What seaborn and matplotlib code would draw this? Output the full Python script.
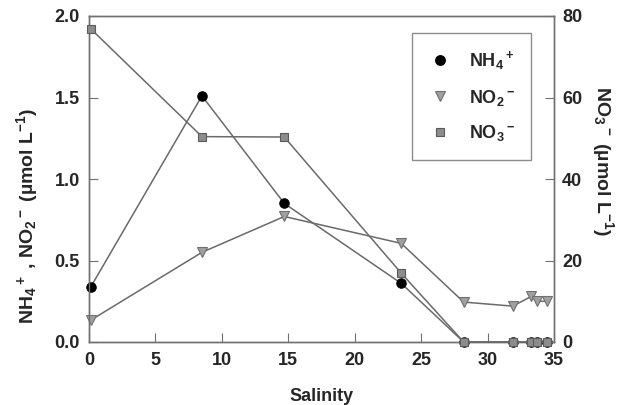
import matplotlib
matplotlib.use("Agg")
import matplotlib.pyplot as plt
import seaborn as sns
import pandas as pd
from matplotlib.lines import Line2D

salinity_nh4 = [0.15, 8.5, 14.7, 23.5, 28.2, 31.9, 33.3, 33.7, 34.45]
nh4 = [0.34, 1.51, 0.85, 0.36, 0.0, 0.0, 0.0, 0.0, 0.0]
salinity_no2 = [0.15, 8.5, 14.7, 23.5, 28.2, 31.9, 33.3, 33.7, 34.45]
no2 = [0.135, 0.55, 0.77, 0.605, 0.245, 0.22, 0.28, 0.25, 0.25]
salinity_no3 = [0.15, 8.5, 14.7, 23.5, 28.2, 31.9, 33.3, 33.7, 34.45]
no3 = [76.8, 50.4, 50.3, 16.9, 0.0, 0.0, 0.0, 0.0, 0.0]

sns.set_style("white")
plt.rcParams['font.family'] = ['Liberation Sans', 'DejaVu Sans']
plt.rcParams['font.weight'] = 'bold'
plt.rcParams['mathtext.fontset'] = 'custom'
plt.rcParams['mathtext.rm'] = 'Liberation Sans:bold'
plt.rcParams['mathtext.bf'] = 'Liberation Sans:bold'
plt.rcParams['mathtext.it'] = 'Liberation Sans:bold'
plt.rcParams['mathtext.default'] = 'bf'

line_c = '#6a6a6a'
spine_c = '#707070'
FS = 13

fig = plt.figure(figsize=(6.19, 4.05), dpi=100)
ax = fig.add_axes([89/619, 1-342/405, (554-89)/619, (342-16)/405])
ax2 = ax.twinx()

df1 = pd.DataFrame({'x': salinity_nh4, 'y': nh4})
df2 = pd.DataFrame({'x': salinity_no2, 'y': no2})
df3 = pd.DataFrame({'x': salinity_no3, 'y': no3})

sns.lineplot(data=df2, x='x', y='y', ax=ax, color=line_c, lw=1.1, sort=False,
             marker='v', markersize=7, markerfacecolor='#a0a0a0', markeredgecolor='#707070',
             markeredgewidth=0.8, zorder=3)
sns.lineplot(data=df1, x='x', y='y', ax=ax, color=line_c, lw=1.1, sort=False,
             marker='o', markersize=6.8, markerfacecolor='black', markeredgecolor='black',
             zorder=4)
sns.lineplot(data=df3, x='x', y='y', ax=ax2, color=line_c, lw=1.1, sort=False,
             marker='s', markersize=6.2, markerfacecolor='#8c8c8c', markeredgecolor='#5a5a5a',
             markeredgewidth=0.8, zorder=5)

ax.set_xlim(0, 35)
ax.set_ylim(0, 2.0)
ax2.set_ylim(0, 80)
ax.set_xticks([0, 5, 10, 15, 20, 25, 30, 35])
ax.set_yticks([0.0, 0.5, 1.0, 1.5, 2.0])
ax.set_yticklabels(['0.0', '0.5', '1.0', '1.5', '2.0'])
ax2.set_yticks([0, 20, 40, 60, 80])

for a in (ax, ax2):
    for s in a.spines.values():
        s.set_color(spine_c)
        s.set_linewidth(1.0)

for ln in ax.lines + ax2.lines:
    ln.set_clip_on(False)

ax.tick_params(axis='x', direction='in', length=6.5, color=spine_c, labelsize=FS, pad=7, bottom=True)
ax.tick_params(axis='y', direction='in', length=6.5, color=spine_c, labelsize=FS, pad=6.5, left=True)
ax2.tick_params(axis='y', direction='in', length=6.5, color=spine_c, labelsize=FS, pad=5.8, right=True)

ax.set_xlabel('Salinity', fontsize=FS, fontweight='bold', labelpad=14)
ax.set_ylabel(r'NH$_4{}^+$ , NO$_2{}^-$ (µmol L$^{-1}$)', fontsize=14, fontweight='bold')
ax2.set_ylabel(r'NO$_3{}^-$ (µmol L$^{-1}$)', fontsize=14, fontweight='bold', rotation=270)
ax.yaxis.set_label_coords((27-89)/465, (342-216)/326)
ax.yaxis.label.set_va('center')
ax2.yaxis.set_label_coords((603-89)/465, (342-161)/326)
ax2.yaxis.label.set_va('center')

handles = [
    Line2D([], [], ls='none', marker='o', markersize=6.8, markerfacecolor='black', markeredgecolor='black'),
    Line2D([], [], ls='none', marker='v', markersize=7, markerfacecolor='#a0a0a0', markeredgecolor='#707070', markeredgewidth=0.8),
    Line2D([], [], ls='none', marker='s', markersize=6.2, markerfacecolor='#8c8c8c', markeredgecolor='#5a5a5a', markeredgewidth=0.8),
]
labels = [r'NH$_4{}^+$', r'NO$_2{}^-$', r'NO$_3{}^-$']
leg = ax2.legend(handles, labels, loc='upper left', bbox_to_anchor=(412/619, 1-33/405),
                 bbox_transform=fig.transFigure, frameon=True, fancybox=False,
                 fontsize=FS, labelspacing=0.86, borderpad=0.9, handletextpad=0.9,
                 handlelength=1.33, borderaxespad=0)
leg.get_frame().set_edgecolor(spine_c)
leg.get_frame().set_linewidth(1.0)

fig.savefig('out.png', dpi=100)
